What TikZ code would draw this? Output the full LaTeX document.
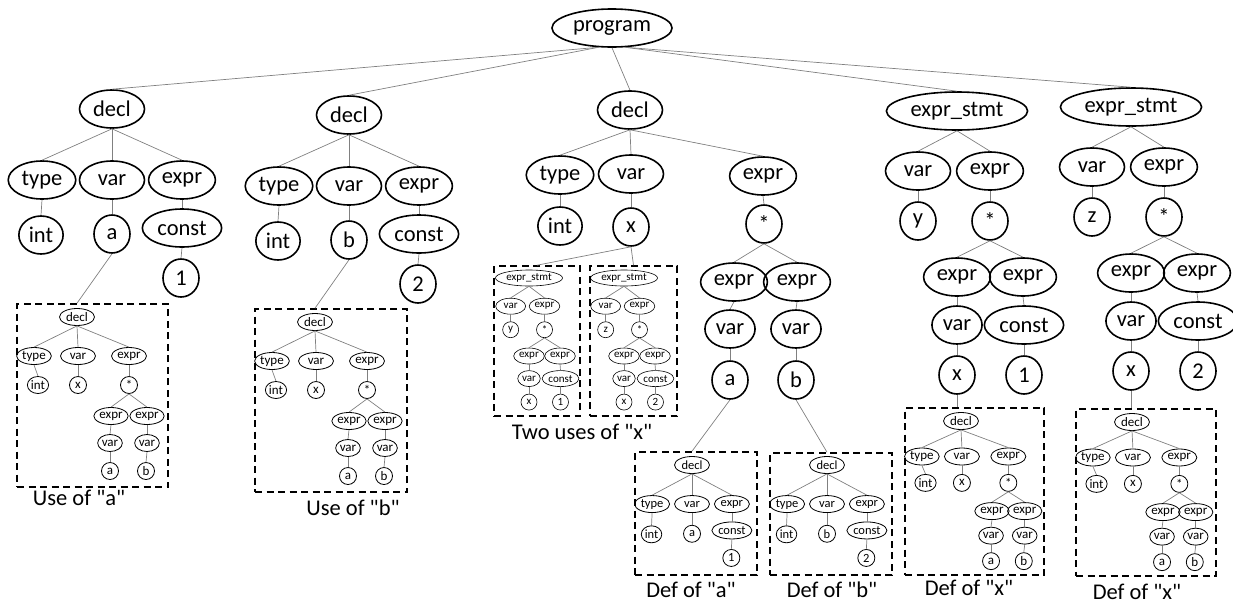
\documentclass[tikz,border=0pt]{standalone}
\usepackage{fontspec}
\setmainfont{Carlito}[Ligatures=TeXOff]
\usetikzlibrary{shapes.geometric,fit}

\tikzset{
  nd/.style={draw, ellipse, line width=1.6pt, inner xsep=3.5pt, inner ysep=0pt,
    minimum width=36pt, minimum height=38pt, font=\fontsize{22.5}{27}\selectfont},
  wd/.style={minimum width=65pt},
  br/.style={draw=gray, line width=0.7pt},
  dbox/.style={draw, line width=1.6pt, dash pattern=on 7pt off 4.5pt, inner sep=0pt},
  lbl/.style={font=\fontsize{22.5}{27}\selectfont},
  midsize/.style={nd/.append style={line width=0.8pt, inner xsep=0.5pt, minimum width=17pt,
    minimum height=17pt, font=\fontsize{13}{15}\selectfont},
    wd/.append style={minimum width=35pt}},
  defsize/.style={nd/.append style={line width=0.8pt, inner xsep=0.5pt, minimum width=17pt,
    minimum height=17pt, font=\fontsize{12.5}{14}\selectfont},
    wd/.append style={minimum width=35pt}},
  tinysize/.style={nd/.append style={line width=0.6pt, inner xsep=1pt, minimum width=16pt,
    minimum height=16pt, font=\fontsize{11}{12}\selectfont},
    wd/.append style={minimum width=30pt}},
}

% decl -> type int / var #1 / expr const #2
\newcommand\decltree[2]{%
  \draw (0,0) node[nd,wd] (decl){decl}
    (-70,71) node[nd,wd] (type){type}
    (0,71) node[nd,wd] (var){var}
    (70,71) node[nd,wd] (expr){expr}
    (-71,126) node[nd] (int){int}
    (0,125) node[nd] (val){#1}
    (70,119) node[nd] (const){const}
    (69,169) node[nd] (num){#2};
  \begin{scope}[br]
    \draw (decl.south) to (type.north);
    \draw (decl.south) to (var.north);
    \draw (decl.south) to (expr.north);
    \draw (type.south) to (int.north);
    \draw (var.south) to (val.north);
    \draw (expr.south) to (const.north);
    \draw (const.south) to (num.north);
  \end{scope}}

% decl -> int x = a * b
\newcommand\usetree{%
  \draw (0,0) node[nd,wd] (decl){decl}
    (-43,39) node[nd] (type){type}
    (1,39) node[nd,wd] (var){var}
    (52,39) node[nd,wd] (expr){expr}
    (-39,68) node[nd] (int){int}
    (1,68) node[nd] (x){x}
    (52,68) node[nd] (star){*}
    (34,99) node[nd] (exa){expr}
    (70,99) node[nd] (exb){expr}
    (33,126) node[nd] (vra){var}
    (70,126) node[nd] (vrb){var}
    (33,154) node[nd] (a){a}
    (69,154) node[nd] (b){b};
  \begin{scope}[br]
    \draw (decl.south) to (type.north);
    \draw (decl.south) to (var.north);
    \draw (decl.south) to (expr.north);
    \draw (type.south) to (int.north);
    \draw (var.south) to (x.north);
    \draw (expr.south) to (star.north);
    \draw (star.south) to (exa.north);
    \draw (star.south) to (exb.north);
    \draw (exa.south) to (vra.north);
    \draw (exb.south) to (vrb.north);
    \draw (vra.south) to (a.north);
    \draw (vrb.south) to (b.north);
  \end{scope}}

% expr_stmt -> #1 = x * #2
\newcommand\stmttree[2]{%
  \draw (0,0) node[nd] (es){expr\_stmt}
    (-39,60) node[nd,wd] (var){var}
    (33,60) node[nd,wd] (expr){expr}
    (-39,110) node[nd] (lhs){#1}
    (33,110) node[nd] (star){*}
    (0,166) node[nd] (exa){expr}
    (66,166) node[nd] (exb){expr}
    (0,214) node[nd] (vr){var}
    (67,214) node[nd] (const){const}
    (0,264) node[nd] (x){x}
    (67,264) node[nd] (num){#2};
  \begin{scope}[br]
    \draw (es.south) to (var.north);
    \draw (es.south) to (expr.north);
    \draw (var.south) to (lhs.north);
    \draw (expr.south) to (star.north);
    \draw (star.south) to (exa.north);
    \draw (star.south) to (exb.north);
    \draw (exa.south) to (vr.north);
    \draw (exb.south) to (const.north);
    \draw (vr.south) to (x.north);
    \draw (const.south) to (num.north);
  \end{scope}}

\begin{document}
\begin{tikzpicture}[x=1pt, y=-1pt]
  \useasboundingbox (0,0) rectangle (1233,603);

  \draw (612,28) node[nd] (program){program};

  % top level statements
  \begin{scope}[shift={(112,109)}, name prefix=ta-]
    \decltree{a}{1}
  \end{scope}
  \begin{scope}[shift={(349,115)}, name prefix=tb-]
    \decltree{b}{2}
  \end{scope}
  \begin{scope}[shift={(957,111)}, name prefix=sy-]
    \stmttree{y}{1}
  \end{scope}
  \begin{scope}[shift={(1131,107)}, name prefix=sz-]
    \stmttree{z}{2}
  \end{scope}

  \draw (630,110) node[nd,wd] (decl3){decl}
    (560,175) node[nd,wd] (type3){type}
    (631,174) node[nd,wd] (var3){var}
    (763,176) node[nd,wd] (expr3){expr}
    (560,226) node[nd] (int3){int}
    (631,227) node[nd] (x3){x}
    (764,224) node[nd] (star3){*}
    (734,282) node[nd] (exa3){expr}
    (797,282) node[nd] (exb3){expr}
    (730,329) node[nd] (vra3){var}
    (796,329) node[nd] (vrb3){var}
    (730,380) node[nd] (a3){a}
    (796,380) node[nd] (b3){b};

  % dashed boxes
  \node[dbox, fit={(17,304) (168,487)}] (uabox){};
  \node[dbox, fit={(255,309) (407,492)}] (ubbox){};
  \node[dbox, fit={(494,266) (580,416)}] (uxbox1){};
  \node[dbox, fit={(590,266) (677,416)}] (uxbox2){};
  \node[dbox, fit={(635,452) (757,575)}] (fabox){};
  \node[dbox, fit={(770,453) (892,575)}] (fbbox){};
  \node[dbox, fit={(905,408) (1044,575)}] (fxbox1){};
  \node[dbox, fit={(1076,409) (1216,576)}] (fxbox2){};

  \begin{scope}[shift={(77,317)}, name prefix=ua-, midsize]
    \usetree
  \end{scope}
  \begin{scope}[shift={(315,322)}, name prefix=ub-, midsize]
    \usetree
  \end{scope}
  \begin{scope}[shift={(961,421)}, scale=0.91, name prefix=fx1-, midsize]
    \usetree
  \end{scope}
  \begin{scope}[shift={(1132,422)}, scale=0.91, name prefix=fx2-, midsize]
    \usetree
  \end{scope}
  \begin{scope}[shift={(529,278)}, scale=0.47, name prefix=ux1-, tinysize]
    \stmttree{y}{1}
  \end{scope}
  \begin{scope}[shift={(624,278)}, scale=0.47, name prefix=ux2-, tinysize]
    \stmttree{z}{2}
  \end{scope}
  \begin{scope}[shift={(692,465)}, xscale=0.57, yscale=0.55, name prefix=fa-, defsize]
    \decltree{a}{1}
  \end{scope}
  \begin{scope}[shift={(827,465)}, xscale=0.57, yscale=0.55, name prefix=fb-, defsize]
    \decltree{b}{2}
  \end{scope}

  \begin{scope}[br]
    \draw (program.235) to (ta-decl.north);
    \draw (program.235) to (tb-decl.north);
    \draw (program.south) to (decl3.north);
    \draw (program.305) to (sy-es.north);
    \draw (program.305) to (sz-es.north);
    \draw (decl3.south) to (type3.north);
    \draw (decl3.south) to (var3.north);
    \draw (decl3.south) to (expr3.north);
    \draw (type3.south) to (int3.north);
    \draw (var3.south) to (x3.north);
    \draw (expr3.south) to (star3.north);
    \draw (star3.south) to (exa3.north);
    \draw (star3.south) to (exb3.north);
    \draw (exa3.south) to (vra3.north);
    \draw (exb3.south) to (vrb3.north);
    \draw (vra3.south) to (a3.north);
    \draw (vrb3.south) to (b3.north);
    % links to the boxes
    \draw (ta-val.south) to (ua-decl |- uabox.north);
    \draw (tb-val.south) to (ub-decl |- ubbox.north);
    \draw (x3.south) to (uxbox1.north);
    \draw (x3.south) to (uxbox2.north);
    \draw (a3.south) to (fa-decl |- fabox.north);
    \draw (b3.south) to (fb-decl |- fbbox.north);
    \draw (sy-x.south) to (sy-x |- fxbox1.north);
    \draw (sz-x.south) to (sz-x |- fxbox2.north);
  \end{scope}

  \node[lbl] (ualbl) at (79,498) {Use of "a"};
  \node[lbl] (ublbl) at (353,508) {Use of "b"};
  \node[lbl] (uxlbl) at (582,432) {Two uses of "x"};
  \node[lbl] (falbl) at (691,590) {Def of "a"};
  \node[lbl] (fblbl) at (832,590) {Def of "b"};
  \node[lbl] (fxlbl1) at (969,588) {Def of "x"};
  \node[lbl] (fxlbl2) at (1137,592) {Def of "x"};
\end{tikzpicture}
\end{document}
